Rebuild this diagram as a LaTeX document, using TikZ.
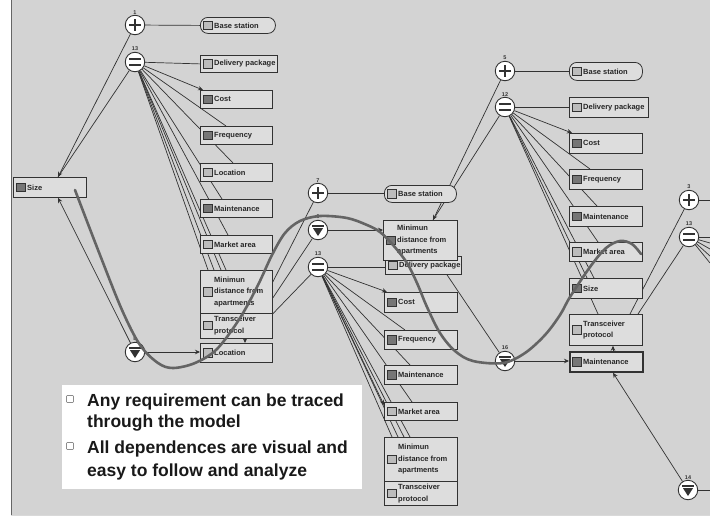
\documentclass[tikz,border=0pt]{standalone}
\usepackage{fontspec}
\setmainfont{Liberation Sans}
\usetikzlibrary{arrows.meta}
\definecolor{bg}{RGB}{211,211,211}
\definecolor{boxfill}{RGB}{221,221,221}
\definecolor{edge}{RGB}{50,50,50}
\definecolor{curve}{RGB}{100,100,100}
\definecolor{iconlight}{RGB}{188,188,188}
\definecolor{icondark}{RGB}{118,118,118}
\pgfdeclarelayer{back}
\pgfdeclarelayer{links}
\pgfsetlayers{back,links,main}
\tikzset{
  reqbox/.style={draw=edge,fill=boxfill,line width=0.8pt,inner sep=0pt,anchor=north west},
  pill/.style={rounded corners=7.5pt},
  heavy/.style={line width=1.8pt},
  reqicon/.style={draw=edge,line width=0.5pt,minimum width=9pt,minimum height=8.5pt,inner sep=0pt},
  reqtext/.style={anchor=west,inner sep=0pt,align=left,text=black!85,
    font=\fontsize{7.5}{11.5}\selectfont\bfseries},
  num/.style={font=\fontsize{5.5}{5.5}\selectfont\bfseries,inner sep=0.6pt,text=black!80},
  junction/.style={circle,draw=edge,fill=white,line width=0.9pt,minimum size=19.5pt,inner sep=0pt},
  plusj/.style={junction,path picture={
    \draw[edge,line width=2.7pt] (path picture bounding box.center) +(-6,0) -- +(6,0)
      (path picture bounding box.center) +(0,-6) -- +(0,6);}},
  eqj/.style={junction,path picture={
    \draw[edge,line width=2.3pt] (path picture bounding box.center) +(-6,-2.7) -- +(6,-2.7)
      +(-6,2.7) -- +(6,2.7);}},
  nabj/.style={junction,path picture={
    \fill[edge] (path picture bounding box.center) +(-6,-5.2) rectangle +(6,-3.2);
    \fill[edge] (path picture bounding box.center) +(-5,-1.8) -- +(5,-1.8) -- +(0,6) -- cycle;}},
  link/.style={draw=edge,line width=0.7pt},
  tip/.style={-{Stealth[length=5pt,width=4.5pt]}},
  trace/.style={draw=curve,line width=2.6pt,line cap=round,line join=round},
  notebox/.style={fill=white,inner sep=0pt,anchor=north west},
  bullettext/.style={anchor=base west,inner sep=0pt,font=\fontsize{17.5}{21}\selectfont\bfseries,text=black!90},
  bulletsq/.style={draw=black!45,fill=white,line width=0.6pt,minimum size=7pt,inner sep=0pt,rounded corners=0.8pt},
}
% requirement box: [extra style] name, left, top, width, height, icon fill, text
\newcommand\putreq[8][]{%
  \node[reqbox,#1,minimum width=#5pt,minimum height=#6pt] (#2) at (#3,#4) {};
  \node[reqicon,fill=#7] (#2-i) at ([xshift=7.5pt]#2.west) {};
  \node[reqtext] (#2-t) at ([xshift=14pt]#2.west) {#8};
}
\begin{document}
\begin{tikzpicture}[x=1pt,y=-1pt]
\useasboundingbox (0,0) rectangle (710,523);
\begin{pgfonlayer}{back}
  \fill[white] (0,0) rectangle (710,523);
  \fill[bg] (11,0) rectangle (710,515);
  \draw[black!60,line width=0.8pt] (11,0) -- (11,515);
  \draw[black!15,line width=0.6pt] (11,515.5) -- (710,515.5);
\end{pgfonlayer}

% ---------- left group ----------
\node[plusj,label={[num]above:1}] (j1) at (135,25) {};
\node[eqj,label={[num]above:13}] (j13a) at (135,62) {};
\node[nabj,label={[num]above:8}] (j8) at (135,352) {};
\putreq[pill]{bsA}{200}{17}{75}{16}{iconlight}{Base station}
\putreq{dpA}{200}{55}{77}{17}{iconlight}{Delivery package}
\putreq{costA}{200}{90}{72}{18}{icondark}{Cost}
\putreq{freqA}{200}{126}{72}{18}{icondark}{Frequency}
\putreq{locA}{200}{163}{72}{18}{iconlight}{Location}
\putreq{maintA}{200}{199}{72}{18}{icondark}{Maintenance}
\putreq{mktA}{200}{235}{72}{18}{iconlight}{Market area}
\putreq{trA}{200}{312}{72}{26}{iconlight}{Transceiver\\protocol}
\putreq{mdA}{200}{270}{72}{43}{iconlight}{Minimun\\distance from\\apartments}
\putreq{locB}{200}{343}{72}{19}{iconlight}{Location}
\putreq{sizeA}{13}{177}{73}{20}{icondark}{Size}

% ---------- middle group ----------
\node[plusj,label={[num]above:7}] (j7) at (318,193) {};
\node[nabj,label={[num]above:6}] (j6) at (318,230) {};
\node[eqj,label={[num]above:13}] (j13m) at (318,267) {};
\putreq[pill]{bsB}{384}{185}{72}{17}{iconlight}{Base station}
\putreq{dpB}{385}{256}{76}{18}{iconlight}{Delivery package}
\putreq{mdB}{383}{220}{74}{40}{icondark}{Minimun\\distance from\\apartments}
\putreq{costB}{384}{292}{73}{20}{icondark}{Cost}
\putreq{freqB}{384}{330}{73}{19}{icondark}{Frequency}
\putreq{maintB}{384}{365}{73}{19}{icondark}{Maintenance}
\putreq{mktB}{384}{402}{73}{18}{iconlight}{Market area}
\putreq{mdC}{384}{437}{73}{44}{iconlight}{Minimun\\distance from\\apartments}
\putreq{trB}{384}{481}{73}{24}{iconlight}{Transceiver\\protocol}

% ---------- right group ----------
\node[plusj,label={[num]above:5}] (j5) at (505,71) {};
\node[eqj,label={[num]above:12}] (j12) at (505,107) {};
\node[nabj,label={[num]above:16}] (j16) at (505,361) {};
\putreq[pill]{bsC}{569}{62}{73}{18}{iconlight}{Base station}
\putreq{dpC}{569}{97}{79}{20}{iconlight}{Delivery package}
\putreq{costC}{569}{133}{73}{20}{icondark}{Cost}
\putreq{freqC}{569}{169}{73}{20}{icondark}{Frequency}
\putreq{maintC}{569}{206}{73}{20}{icondark}{Maintenance}
\putreq{mktC}{569}{242}{73}{19}{iconlight}{Market area}
\putreq{sizeC}{569}{278}{73}{20}{icondark}{Size}
\putreq{trC}{569}{314}{73}{31}{iconlight}{Transceiver\\protocol}
\putreq[heavy]{maintD}{569}{351}{73}{20}{icondark}{Maintenance}

% ---------- far right ----------
\node[plusj,label={[num]above:3}] (j3) at (689,200) {};
\node[eqj,label={[num]above:13}] (j13r) at (689,237) {};
\node[nabj,label={[num]above:14}] (j14) at (688,490) {};
\coordinate (r3) at (710,200);
\coordinate (r13a) at (710,237);
\coordinate (r13b) at (710,243);
\coordinate (r13c) at (710,249);
\coordinate (r13d) at (710,256);
\coordinate (r13e) at (710,263);
\coordinate (r14) at (710,490);

% ---------- connectors ----------
\begin{pgfonlayer}{links}
  % left group
  \draw[link] (j1) -- (bsA.west);
  \draw[link] (j13a) -- (dpA.west);
  \draw[link,tip] (j13a) -- ([xshift=3pt]costA.north west);
  \draw[link] (j13a) -- ([xshift=26pt]freqA.north west);
  \draw[link] (j13a) -- ([xshift=33pt]locA.north west);
  \draw[link] (j13a) -- ([xshift=22pt]maintA.north west);
  \draw[link] (j13a) -- ([xshift=28pt]mktA.north west);
  \draw[link] (j13a) -- ([xshift=8pt]mdA.north west);
  \draw[link] (j13a) -- ([xshift=14pt]mdA.north west);
  \draw[link] (j13a) -- ([xshift=21pt]mdA.north west);
  \draw[link] (j13a) -- ([xshift=26pt]mdA.north west);
  \draw[link,tip] (j1) -- ([xshift=45pt]sizeA.north west);
  \draw[link] (j13a) -- ([xshift=45pt]sizeA.north west);
  \draw[link,tip] (j8) -- ([xshift=45pt]sizeA.south west);
  \draw[link,tip] (j8) -- (j8 -| locB.west);
  \draw[link,tip] ([xshift=45pt]trA.south west) -- ([xshift=45pt]locB.north west);
  \draw[link] ([yshift=-12pt]mdA.north east) -- (j7);
  \draw[link] ([yshift=-28pt]mdA.north east) -- (j6);
  \draw[link] (mdA.south east) -- (j13m);
  % middle group
  \draw[link] (j7) -- (j7 -| bsB.west);
  \draw[link,tip] (j6) -- (j6 -| mdB.west);
  \draw[link] (j13m) -- (j13m -| dpB.west);
  \draw[link,tip] (j13m) -- ([xshift=3pt]costB.north west);
  \draw[link] (j13m) -- ([xshift=21pt]freqB.north west);
  \draw[link] (j13m) -- ([xshift=26pt]maintB.north west);
  \draw[link] (j13m) -- ([xshift=28pt]mktB.north west);
  \draw[link,tip] (j13m) -- ([yshift=-3pt]mktB.north west);
  \draw[link] (j13m) -- ([xshift=8pt]mdC.north west);
  \draw[link] (j13m) -- ([xshift=14pt]mdC.north west);
  \draw[link] (j13m) -- ([xshift=20pt]mdC.north west);
  \draw[link] (j13m) -- ([xshift=26pt]mdC.north west);
  \draw[link,tip] (j5) -- ([xshift=50pt]mdB.north west);
  \draw[link] (j12) -- ([xshift=50pt]mdB.north west);
  \draw[link] ([xshift=62pt]dpB.south west) -- (j16);
  % right group
  \draw[link] (j5) -- (j5 -| bsC.west);
  \draw[link] (j12) -- (j12 -| dpC.west);
  \draw[link,tip] (j12) -- ([xshift=3pt]costC.north west);
  \draw[link] (j12) -- ([xshift=21pt]freqC.north west);
  \draw[link] (j12) -- ([xshift=28pt]maintC.north west);
  \draw[link] (j12) -- ([xshift=29pt]mktC.north west);
  \draw[link] (j12) -- ([xshift=18pt]sizeC.north west);
  \draw[link] (j12) -- ([xshift=25pt]sizeC.north west);
  \draw[link] (j12) -- ([xshift=29pt]trC.north west);
  \draw[link,tip] (j16) -- (j16 -| maintD.west);
  \draw[link,tip] ([xshift=44pt]maintD.north west) -- ([xshift=44pt]trC.south west);
  \draw[link,tip] (j14) -- ([xshift=44pt]maintD.south west);
  \draw[link] ([xshift=61pt]trC.north west) -- (j3);
  \draw[link] ([xshift=69pt]trC.north west) -- (j13r);
  \draw[link] (j3) -- (r3);
  \draw[link] (j13r) -- (r13a);
  \draw[link] (j13r) -- (r13b);
  \draw[link] (j13r) -- (r13c);
  \draw[link] (j13r) -- (r13d);
  \draw[link] (j13r) -- (r13e);
  \draw[link] (j14) -- (r14);
\end{pgfonlayer}

% ---------- traced requirement ----------
\draw[trace] plot[smooth,tension=0.55] coordinates {
  (75,190) (100,255) (122,310) (140,345) (158,363) (173,368) (195,363) (217,349)
  (240,318) (258,285) (272,255) (285,233) (300,221) (320,216) (347,218) (367,225)
  (380,232) (393,245) (407,263) (417,283) (427,307) (440,333) (455,351) (473,361)
  (503,363) (525,353) (545,335) (560,315) (570,297) (590,267) (606,248) (620,241)
  (632,244) (641,254)};

% ---------- notes ----------
\node[notebox,minimum width=300pt,minimum height=104pt] (note) at (62,385) {};
\node[bulletsq] (q1) at (70,399) {};
\node[bulletsq] (q2) at (70,446) {};
\node[bullettext] (t1) at (87,406) {Any requirement can be traced};
\node[bullettext] (t2) at (87,427) {through the model};
\node[bullettext] (t3) at (87,453) {All dependences are visual and};
\node[bullettext] (t4) at (87,476) {easy to follow and analyze};
\end{tikzpicture}
\end{document}
